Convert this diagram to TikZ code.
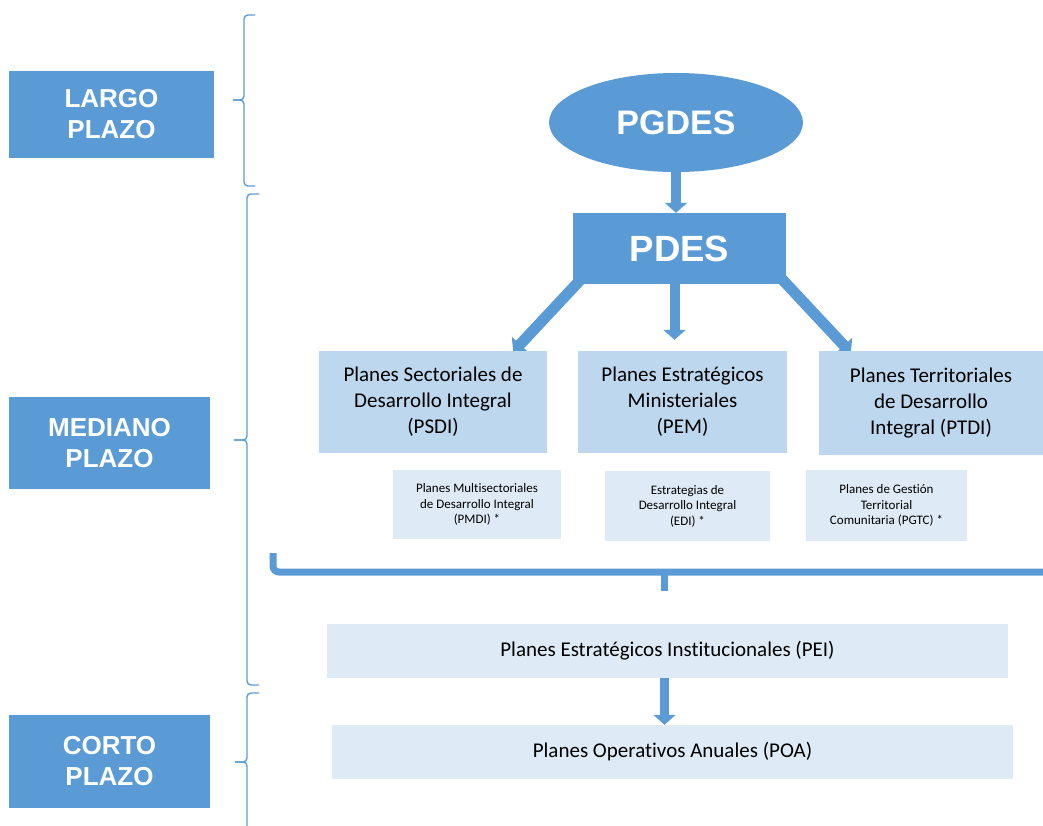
\documentclass[tikz,border=0pt]{standalone}
\usepackage{fontspec}
\setmainfont{Carlito}[Ligatures=NoCommon]
\newfontfamily\headfont{Liberation Sans}
\usetikzlibrary{shapes.geometric,arrows.meta,calc,backgrounds}
\definecolor{azul}{HTML}{5B9BD5}
\definecolor{celeste}{HTML}{BDD7EE}
\definecolor{palido}{HTML}{DEEBF7}

\begin{document}
\begin{tikzpicture}[
  x=1pt, y=-1pt,
  plazo/.style = {
    shape=rectangle,
    fill=azul,
    text=white,
    inner sep=0pt,
    align=center,
    font=\headfont\bfseries\fontsize{26}{31}\selectfont
  },
  plan/.style = {
    shape=rectangle,
    fill=celeste,
    inner sep=0pt,
    align=center,
    font=\fontsize{21}{26}\selectfont
  },
  subplan/.style = {
    shape=rectangle,
    fill=palido,
    inner sep=0pt,
    align=center,
    font=\fontsize{13}{15.5}\selectfont
  },
  nivel/.style = {
    shape=rectangle,
    fill=palido,
    inner sep=0pt,
    font=\fontsize{21}{26}\selectfont
  },
  flecha/.style = {draw=azul, line width=10pt, -{Triangle[width=22pt,length=10pt]}},
  llave/.style = {draw=azul, line width=1.4pt, rounded corners=4pt},
  %tramo/.style = {draw=azul, line width=7pt},
]
  \useasboundingbox (0,0) rectangle (1043,826);

  % horizonte
  \node (largo)[plazo, minimum width=205pt, minimum height=87pt] at (111.5,114.5) {LARGO\\PLAZO};
  \node (mediano)[plazo, minimum width=201pt, minimum height=92pt] at (109.5,443) {MEDIANO\\PLAZO};
  \node (corto)[plazo, minimum width=201pt, minimum height=93pt] at (109.5,761.5) {CORTO\\PLAZO};

  % llaves
  \draw[llave] (255,15) -- (244,15) -- (244,100) -- (233,100);
  \draw[llave] (255,186) -- (244,186) -- (244,100) -- (233,100);
  \draw[llave] (259,194) -- (247,194) -- (247,440) -- (234,440);
  \draw[llave] (259,685) -- (247,685) -- (247,440) -- (234,440);
  \draw[llave] (259,693) -- (247,693) -- (247,762) -- (235,762);
  \draw[llave] (259,831) -- (247,831) -- (247,762) -- (235,762);

  % planes
  \node (pgdes)[
    ellipse,
    fill=azul,
    text=white,
    inner sep=0pt,
    minimum width=254pt,
    minimum height=99pt,
    font=\headfont\bfseries\fontsize{34}{40}\selectfont
  ] at (676,122.5) {PGDES};
  \node (pdes)[
    plazo,
    minimum width=213pt,
    minimum height=71pt,
    font=\headfont\bfseries\fontsize{36.5}{42}\selectfont
  ] at (679.5,248.5) {PDES};

  \node (psdi)[plan, minimum width=228pt, minimum height=102pt] at (433,402)
    {Planes Sectoriales de\\Desarrollo Integral\\(PSDI)};
  \node (pem)[plan, minimum width=209pt, minimum height=102pt] at (682.5,402)
    {Planes Estratégicos\\Ministeriales\\(PEM)};
  \node (ptdi)[plan, minimum width=224pt, minimum height=104pt] at (931,403)
    {Planes Territoriales\\de Desarrollo\\Integral (PTDI)};

  \node (pmdi)[subplan, minimum width=168pt, minimum height=69pt] at (477,504.5)
    {Planes Multisectoriales\\de Desarrollo Integral\\(PMDI) *};
  \node (edi)[subplan, minimum width=165pt, minimum height=70pt] at (687.5,506)
    {Estrategias de\\Desarrollo Integral\\(EDI) *};
  \node (pgtc)[subplan, minimum width=161pt, minimum height=71pt] at (886.5,505.5)
    {Planes de Gestión\\Territorial\\Comunitaria (PGTC) *};

  \node (pei)[nivel, minimum width=681pt, minimum height=54pt] at (667.5,651)
    {Planes Estratégicos Institucionales (PEI)};
  \node (poa)[nivel, minimum width=681pt, minimum height=54pt] at (672.5,752)
    {Planes Operativos Anuales (POA)};

  % agrupador
  \draw[azul, line width=7pt, rounded corners=6pt] (273,553) -- (273,572) -- (1050,572);
  \draw[azul, line width=7pt] (664,572) -- (664,591);

  \begin{scope}[on background layer]
    \draw[flecha] (pgdes.south) -- (pgdes.south |- pdes.north);
    \draw[flecha] ($(pdes.south)+(-5,-5)$) -- ($(pdes.south |- pem.north)+(-5,-11)$);
    \draw[flecha, line width=11pt] ($(pdes.south west)+(40,-39)$) -- ($(psdi.north east)+(-34,1)$);
    \draw[flecha, line width=11pt] ($(pdes.south east)+(-35,-38)$) -- ($(ptdi.north west)+(32,2)$);
    \draw[flecha, line width=8.5pt] ($(pei.south)+(-3,-2)$) -- ($(pei.south |- poa.north)+(-3,0)$);
  \end{scope}
\end{tikzpicture}
\end{document}
